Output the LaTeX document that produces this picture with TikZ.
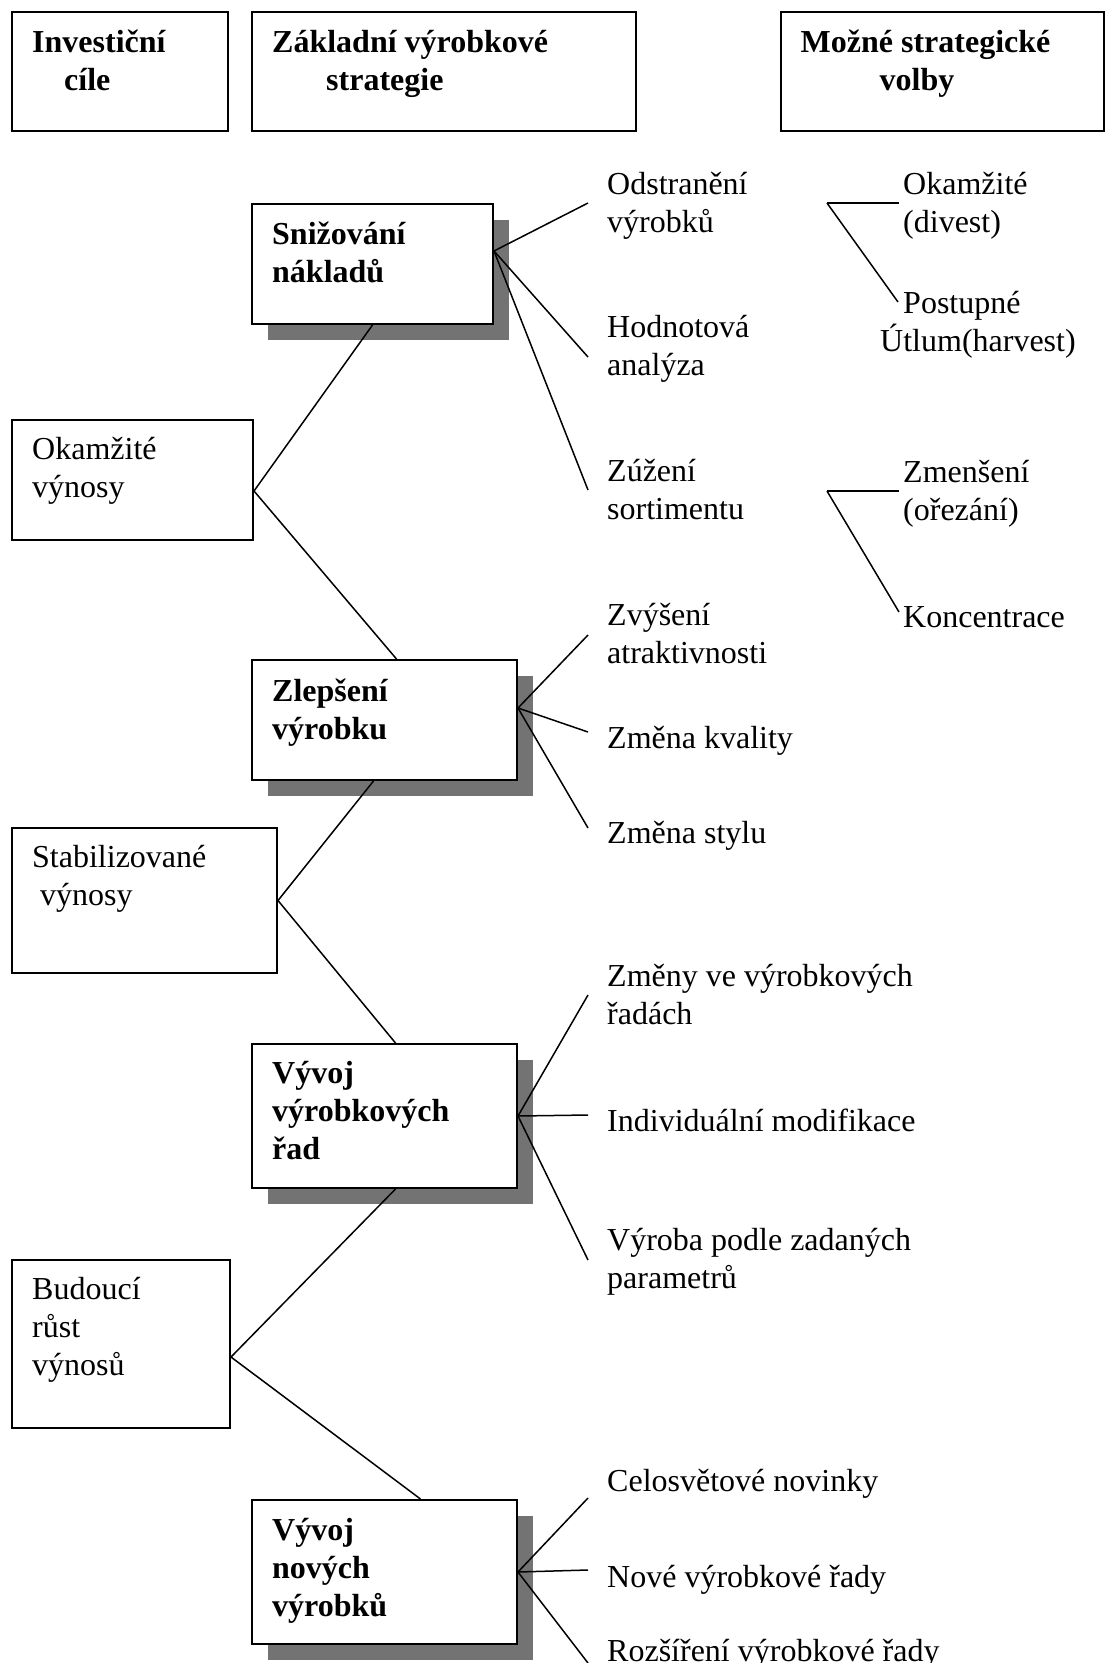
\documentclass[tikz,border=0pt]{standalone}
\usepackage{fontspec}
\setmainfont{Liberation Serif}
\usetikzlibrary{positioning, calc, shadows}

\begin{document}
\begin{tikzpicture}[
  x=1pt, y=-1pt,
  every node/.style={font=\fontsize{32}{38}\selectfont, align=left, inner sep=0pt},
  box/.style={draw, line width=2pt, fill=white, anchor=north west},
  sbox/.style={box, drop shadow={shadow xshift=16pt, shadow yshift=-16pt,
               fill=black!55, opacity=1}},
  lab/.style={anchor=north west, execute at begin node=\strut,
              execute at end node=\strut},
  blab/.style={lab, font=\fontsize{32}{38}\selectfont\bfseries},
  ln/.style={line width=1.5pt},
]
  \useasboundingbox (0,0) rectangle (1104,1663);

  % column headers
  \node[box, minimum width=216pt, minimum height=119pt]   (hinv) at (11,11) {};
  \node[box, minimum width=384pt, minimum height=119pt]   (hzak) at (251,11) {};
  \node[box, minimum width=323pt, minimum height=119pt]   (hmoz) at (779.5,11) {};
  \node[blab, below right=19pt and 21pt of hinv.north west] (hinvt)
        {Investiční\\\hspace*{32pt}cíle};
  \node[blab, below right=19pt and 21pt of hzak.north west] (hzakt)
        {Základní výrobkové\\\hspace*{54pt}strategie};
  \node[blab, below right=19pt and 21pt of hmoz.north west] (hmozt)
        {Možné strategické\\\hspace*{79pt}volby};

  % investment goals
  \node[box, minimum width=241pt, minimum height=120pt]   (bokam) at (11,419) {};
  \node[box, minimum width=265pt, minimum height=145pt]   (bstab) at (11,827) {};
  \node[box, minimum width=218pt, minimum height=168pt]   (bbud)  at (11,1259) {};
  \node[lab, below right=18.5pt and 21pt of bokam.north west] (bokamt)
        {Okamžité\\výnosy};
  \node[lab, below right=18.5pt and 21pt of bstab.north west] (bstabt)
        {Stabilizované\\\hspace*{8pt}výnosy};
  \node[lab, below right=18.5pt and 21pt of bbud.north west]  (bbudt)
        {Budoucí\\růst\\výnosů};

  % basic product strategies
  \node[sbox, minimum width=241pt, minimum height=120pt]  (ssniz) at (251,203) {};
  \node[sbox, minimum width=265pt, minimum height=120pt]  (szlep) at (251,659) {};
  \node[sbox, minimum width=265pt, minimum height=144pt]  (sreda) at (251,1043) {};
  \node[sbox, minimum width=265pt, minimum height=144pt]  (snove) at (251,1499) {};
  \node[blab, below right=18.5pt and 21pt of ssniz.north west] (ssnizt)
        {Snižování\\nákladů};
  \node[blab, below right=19.5pt and 21pt of szlep.north west] (szlept)
        {Zlepšení\\výrobku};
  \node[blab, below right=18.5pt and 21pt of sreda.north west] (sredat)
        {Vývoj\\výrobkových\\řad};
  \node[blab, below right=19.5pt and 21pt of snove.north west] (snovet)
        {Vývoj\\nových\\výrobků};

  % possible options
  \node[lab] (odst) at (607,172)   {Odstranění\\výrobků};
  \node[lab] (hodn) at (607,315.5) {Hodnotová\\analýza};
  \node[lab] (zuze) at (607,459)   {Zúžení\\sortimentu};
  \node[lab] (zvys) at (607,603)   {Zvýšení\\atraktivnosti};
  \node[lab] (kval) at (607,722)   {Změna kvality};
  \node[lab] (styl) at (607,817)   {Změna stylu};
  \node[lab] (zmen) at (607,964)   {Změny ve výrobkových\\řadách};
  \node[lab] (indi) at (607,1105)  {Individuální modifikace};
  \node[lab] (vyro) at (607,1228)  {Výroba podle zadaných\\parametrů};
  \node[lab] (celo) at (607,1465)  {Celosvětové novinky};
  \node[lab] (nrad) at (607,1561)  {Nové výrobkové řady};
  \node[lab] (rozs) at (607,1635)  {Rozšíření výrobkové řady};

  \node[lab] (cokam) at (903,172) {Okamžité\\(divest)};
  \node[lab] (cpost) at (880,291) {\hspace*{23pt}Postupné\\Útlum(harvest)};
  \node[lab] (czmen) at (903,460) {Zmenšení\\(ořezání)};
  \node[lab] (ckonc) at (903,601) {Koncentrace};
  \coordinate (fork1) at (827,203);
  \coordinate (fork2) at (827,491);

  % goals -> strategies
  \draw[ln] ($(bokam.east)+(0,11)$) -- (ssniz.south);
  \draw[ln] ($(bokam.east)+(0,11)$) -- ($(szlep.north)+(12,0)$);
  \draw[ln] (bstab.east) -- ($(szlep.south)+(-11,0)$);
  \draw[ln] (bstab.east) -- ($(sreda.north)+(11,0)$);
  \draw[ln] ($(bbud.east)+(0,13)$) -- ($(sreda.south)+(11,0)$);
  \draw[ln] ($(bbud.east)+(0,13)$) -- ($(snove.north)+(36,0)$);

  % strategies -> options
  \draw[ln] ($(ssniz.east)+(0,-13)$) -- ($(odst.north west)+(-19,31)$);
  \draw[ln] ($(ssniz.east)+(0,-13)$) -- ($(hodn.north west)+(-19,41.5)$);
  \draw[ln] ($(ssniz.east)+(0,-13)$) -- ($(zuze.north west)+(-19,31)$);
  \draw[ln] ($(szlep.east)+(0,-12)$) -- ($(zvys.north west)+(-19,32)$);
  \draw[ln] ($(szlep.east)+(0,-12)$) -- ($(kval.north west)+(-19,10)$);
  \draw[ln] ($(szlep.east)+(0,-12)$) -- ($(styl.north west)+(-19,11)$);
  \draw[ln] (sreda.east) -- ($(zmen.north west)+(-19,31)$);
  \draw[ln] (sreda.east) -- ($(indi.north west)+(-19,10)$);
  \draw[ln] (sreda.east) -- ($(vyro.north west)+(-19,32)$);
  \draw[ln] (snove.east) -- ($(celo.north west)+(-19,33)$);
  \draw[ln] (snove.east) -- ($(nrad.north west)+(-19,9)$);
  \draw[ln] (snove.east) -- ($(rozs.north west)+(-19,28)$);

  % forks of the strategic options
  \draw[ln] (fork1) -- ($(cokam.north west)+(-4,31)$);
  \draw[ln] (fork1) -- ($(cpost.north west)+(18,11)$);
  \draw[ln] (fork2) -- ($(czmen.north west)+(-4,31)$);
  \draw[ln] (fork2) -- ($(ckonc.north west)+(-4,11)$);
\end{tikzpicture}
\end{document}
